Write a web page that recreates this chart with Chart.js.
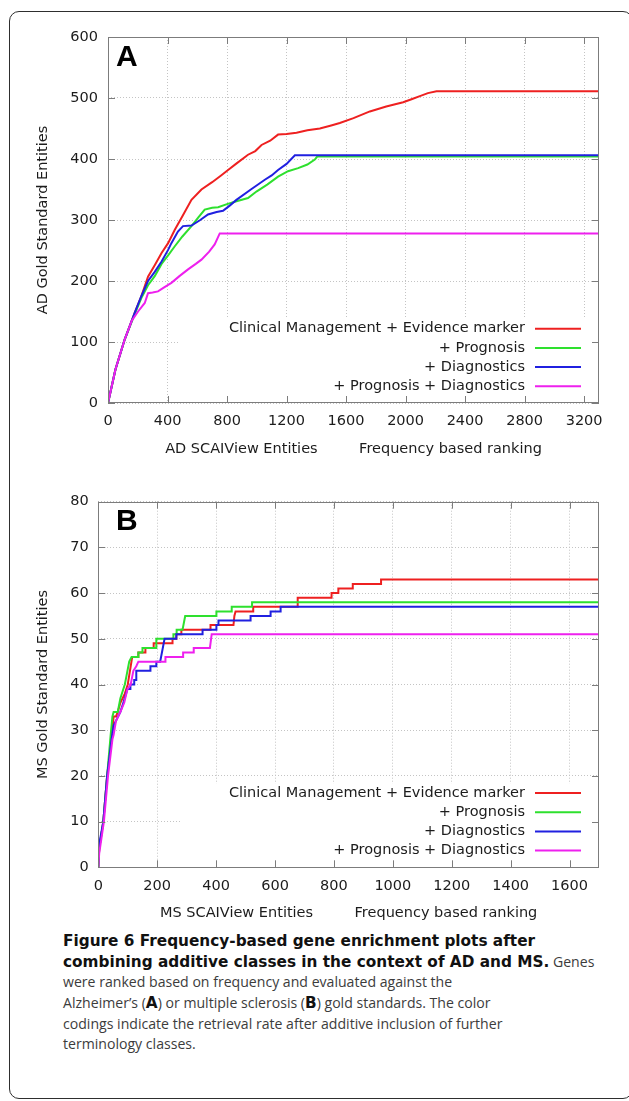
<!DOCTYPE html>
<html>
<head>
<meta charset="utf-8">
<script src="https://cdn.jsdelivr.net/npm/chart.js@4.4.1/dist/chart.umd.min.js"></script>
<style>
html,body{margin:0;padding:0;background:#fff;}
body{width:629px;height:1101px;position:relative;overflow:hidden;}
#frame{position:absolute;left:9px;top:11px;width:624px;height:1088px;border:1.5px solid #2e2e2e;border-radius:10px;box-sizing:border-box;}
canvas{position:absolute;left:0;}
#cA{top:0;}
#cB{top:470px;}
#cap{position:absolute;left:63px;top:931px;font-family:"Open Sans",sans-serif;font-size:14.1px;line-height:20.7px;color:#3c3c3c;white-space:nowrap;}
#cap b{color:#111;font-weight:700;font-family:"DejaVu Sans",sans-serif;font-size:15.3px;}
#cap span{display:block;height:20.7px;}
</style>
</head>
<body>
<div id="frame"></div>
<canvas id="cA" width="629" height="470"></canvas>
<canvas id="cB" width="629" height="460"></canvas>
<div id="cap"><span><b>Figure 6 Frequency-based gene enrichment plots after</b></span><span><b>combining additive classes in the context of AD and MS.</b> Genes</span><span>were ranked based on frequency and evaluated against the</span><span>Alzheimer’s (<b>A</b>) or multiple sclerosis (<b>B</b>) gold standards. The color</span><span>codings indicate the retrieval rate after additive inclusion of further</span><span>terminology classes.</span></div>
<script>
// ---------- data ----------
const seriesLabels = ['Clinical Management + Evidence marker', '+ Prognosis', '+ Diagnostics', '+ Prognosis + Diagnostics'];
const seriesColors = ['#ee2020', '#2ee02e', '#2020e0', '#ee20ee'];

const adXTicks = [0, 400, 800, 1200, 1600, 2000, 2400, 2800, 3200];
const adYTicks = [0, 100, 200, 300, 400, 500, 600];
const msXTicks = [0, 200, 400, 600, 800, 1000, 1200, 1400, 1600];
const msYTicks = [0, 10, 20, 30, 40, 50, 60, 70, 80];

// AD (panel A): [rank, gold standard entities]
const adClinical = [[0,0],[50,55],[112,104],[180,148],[224,175],[269,207],[314,226],[360,246],[404,262],[449,284],[500,306],[561,333],[628,350],[700,362],[760,373],[807,382],[860,392],[941,407],[990,413],[1032,423],[1090,430],[1143,440],[1200,441],[1267,443],[1340,447],[1424,450],[1500,455],[1558,459],[1650,467],[1760,478],[1870,486],[1984,493],[2040,498],[2096,503],[2150,508],[2208,511],[3300,511]];
const adPrognosis = [[0,0],[50,55],[112,104],[180,146],[224,172],[269,193],[314,208],[360,228],[404,242],[449,257],[500,273],[561,290],[610,305],[650,317],[700,320],[740,321],[800,326],[852,330],[941,336],[1000,347],[1070,358],[1143,371],[1210,380],[1278,385],[1340,391],[1390,399],[1406,404],[3300,404]];
const adDiagnostics = [[0,0],[50,55],[112,104],[180,148],[224,175],[269,200],[314,215],[360,232],[404,251],[426,262],[470,281],[504,290],[561,291],[620,300],[672,309],[730,313],[773,315],[820,324],[863,333],[960,350],[1054,366],[1100,373],[1143,382],[1200,392],[1256,406],[3300,406]];
const adBoth = [[0,0],[50,55],[112,104],[160,135],[202,150],[247,164],[269,180],[300,181],[336,183],[380,190],[426,197],[480,208],[538,219],[590,228],[628,235],[680,248],[717,260],[751,278],[3300,278]];

// MS (panel B): [rank, gold standard entities]
const msClinical = [[0,0],[3,4],[17,10],[30,20],[45,28],[52,33],[60,33],[66,34],[75,36],[90,38],[100,40],[105,42],[110,44],[115,46],[136,46],[136,47],[160,47],[160,48],[188,48],[188,49],[252,49],[252,50],[265,50],[265,51],[282,51],[282,52],[381,52],[381,53],[459,53],[462,55],[466,56],[526,56],[526,57],[677,57],[677,59],[792,59],[792,60],[815,60],[815,61],[864,61],[864,62],[960,62],[960,63],[1700,63]];
const msPrognosis = [[0,0],[3,4],[17,10],[30,20],[42,29],[48,33],[52,34],[66,34],[75,37],[90,40],[96,42],[105,45],[113,46],[136,46],[136,47],[150,47],[150,48],[197,48],[197,50],[255,50],[255,51],[266,51],[266,52],[286,52],[295,55],[401,55],[401,56],[453,56],[453,57],[522,57],[522,58],[1700,58]];
const msDiagnostics = [[0,0],[3,5],[17,10],[30,20],[45,28],[52,31],[75,34],[85,36],[99,39],[109,39],[109,40],[122,40],[122,41],[129,41],[129,43],[177,43],[177,44],[197,44],[197,45],[210,45],[225,50],[265,50],[265,51],[354,51],[354,52],[401,52],[401,53],[408,53],[408,54],[517,54],[517,55],[585,55],[585,56],[619,56],[619,57],[1700,57]];
const msBoth = [[0,0],[3,3],[19,10],[33,20],[48,28],[52,29],[60,32],[75,34],[88,36],[99,39],[110,40],[119,43],[129,44],[136,45],[228,45],[228,46],[288,46],[288,47],[324,47],[324,48],[379,48],[385,51],[1700,51]];

// ---------- rendering ----------
const FONT = 'DejaVu Sans';
const TXT = '#1c1c1c';

const gnuplotLook = {
  id: 'gnuplotLook',
  beforeDatasetsDraw(chart, args, o) {
    const a = chart.chartArea, ctx = chart.ctx;
    ctx.save();
    ctx.fillStyle = '#ffffff';
    ctx.fillRect(o.boxLeft, a.bottom - 84, a.right - o.boxLeft, 83);
    ctx.restore();
  },
  afterDatasetsDraw(chart, args, o) {
    const {ctx, chartArea: a, scales: {x, y}} = chart;
    ctx.save();
    ctx.strokeStyle = '#7c7c7c';
    ctx.lineWidth = 1;
    ctx.beginPath();
    x.ticks.forEach(t => {
      const px = Math.round(x.getPixelForValue(t.value)) + 0.5;
      ctx.moveTo(px, a.bottom); ctx.lineTo(px, a.bottom - 7);
      ctx.moveTo(px, a.top); ctx.lineTo(px, a.top + 7);
    });
    y.ticks.forEach(t => {
      const py = Math.round(y.getPixelForValue(t.value)) + 0.5;
      ctx.moveTo(a.left, py); ctx.lineTo(a.left + 7, py);
      ctx.moveTo(a.right, py); ctx.lineTo(a.right - 7, py);
    });
    ctx.stroke();
    ctx.strokeRect(Math.round(a.left) + 0.5, Math.round(a.top) + 0.5, Math.round(a.width) - 1, Math.round(a.height) - 1);

    ctx.fillStyle = '#000';
    ctx.font = 'bold 30px "Liberation Sans"';
    ctx.textAlign = 'left';
    ctx.textBaseline = 'alphabetic';
    ctx.fillText(o.letter, o.letterX, a.top + 28.5);

    ctx.font = '14.5px "' + FONT + '"';
    ctx.textAlign = 'right';
    ctx.textBaseline = 'middle';
    chart.data.datasets.forEach((ds, i) => {
      const yy = a.bottom - 74.3 + i * 19.2;
      ctx.fillStyle = TXT;
      ctx.fillText(ds.label, a.right - 74, yy);
      ctx.strokeStyle = ds.borderColor;
      ctx.lineWidth = 2;
      ctx.beginPath();
      ctx.moveTo(a.right - 64, yy);
      ctx.lineTo(a.right - 18, yy);
      ctx.stroke();
    });
    ctx.restore();
  }
};

function makeChart(id, cfg) {
  const datasets = cfg.series.map((s, i) => ({
    label: seriesLabels[i],
    data: s.map(p => ({x: p[0], y: p[1]})),
    borderColor: seriesColors[i],
    backgroundColor: seriesColors[i],
    borderWidth: 2,
    pointRadius: 0,
    showLine: true,
    fill: false,
    tension: 0,
    order: 4 - i
  }));
  const tickFont = {family: FONT, size: 14.5};
  const plain = v => String(v);
  return new Chart(document.getElementById(id), {
    type: 'scatter',
    data: {datasets},
    plugins: [gnuplotLook],
    options: {
      responsive: false,
      animation: false,
      devicePixelRatio: 1,
      layout: {padding: {left: 0, right: 30, top: cfg.padTop, bottom: 0}},
      plugins: {
        legend: {display: false},
        tooltip: {enabled: false},
        gnuplotLook: {letter: cfg.letter, letterX: 116, boxLeft: 180}
      },
      scales: {
        x: {
          type: 'linear', min: 0, max: cfg.xMax,
          afterBuildTicks: s => { s.ticks = cfg.xTicks.map(v => ({value: v})); },
          afterFit: s => { s.height = cfg.xAxisH; },
          grid: {color: '#c4c4c4', lineWidth: 1, drawTicks: false},
          border: {display: false, dash: [1, 2]},
          ticks: {padding: 10, color: TXT, font: tickFont, autoSkip: false, maxRotation: 0, callback: plain},
          title: {display: true, text: cfg.xTitle, color: TXT, font: tickFont, padding: {top: 0, bottom: cfg.xTitlePad}}
        },
        y: {
          type: 'linear', min: 0, max: cfg.yMax,
          afterBuildTicks: s => { s.ticks = cfg.yTicks.map(v => ({value: v})); },
          afterFit: s => { s.width = cfg.yAxisW; },
          grid: {color: '#c4c4c4', lineWidth: 1, drawTicks: false},
          border: {display: false, dash: [1, 2]},
          ticks: {padding: cfg.yTickPad, color: TXT, font: tickFont, autoSkip: false, callback: plain},
          title: {display: true, text: cfg.yTitle, color: TXT, font: tickFont, padding: {top: 34.6, bottom: 0}}
        }
      }
    }
  });
}

makeChart('cA', {
  series: [adClinical, adPrognosis, adDiagnostics, adBoth],
  xTicks: adXTicks, yTicks: adYTicks, xMax: 3300, yMax: 600,
  padTop: 37, xAxisH: 67, yAxisW: 108, yTickPad: 10, xTitlePad: 12.3,
  xTitle: 'AD SCAIView Entities         Frequency based ranking',
  yTitle: 'AD Gold Standard Entities', letter: 'A'
});
makeChart('cB', {
  series: [msClinical, msPrognosis, msDiagnostics, msBoth],
  xTicks: msXTicks, yTicks: msYTicks, xMax: 1700, yMax: 80,
  padTop: 31.7, xAxisH: 62.7, yAxisW: 98.3, yTickPad: 9.5, xTitlePad: 8.3,
  xTitle: 'MS SCAIView Entities         Frequency based ranking',
  yTitle: 'MS Gold Standard Entities', letter: 'B'
});
</script>
</body>
</html>
